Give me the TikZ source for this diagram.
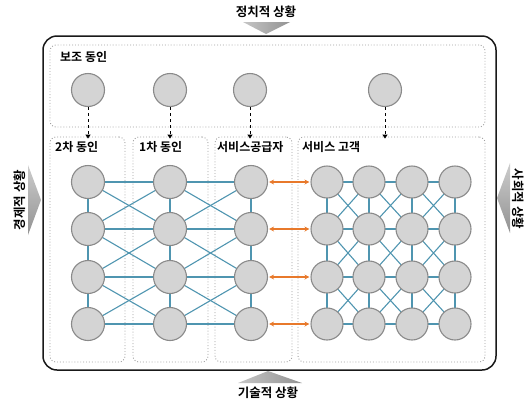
\documentclass[tikz,border=0pt]{standalone}
\usepackage{fontspec}
\setmainfont{Noto Sans CJK KR}[BoldFont={Noto Sans CJK KR Bold}]
\usetikzlibrary{arrows.meta}
\definecolor{teal1}{HTML}{4F95B0}
\definecolor{org}{HTML}{E8792B}
\definecolor{cfill}{HTML}{D4D4D4}
\definecolor{cdraw}{HTML}{8A8A8A}
\begin{document}
\begin{tikzpicture}[x=1pt,y=-1pt,
  circ/.style={circle,fill=cfill,draw=cdraw,line width=1.1pt,minimum size=33pt,inner sep=0pt},
  dbox/.style={draw=gray!75,dotted,line width=0.9pt,rounded corners=6pt,inner sep=0pt},
  lab/.style={font=\bfseries\fontsize{12}{14}\selectfont,anchor=west,inner sep=0pt},
  big/.style={font=\bfseries\fontsize{12.5}{14}\selectfont,inner sep=0pt},
  tl/.style={teal1,line width=1.1pt},
  oa/.style={org,line width=1.3pt,{Stealth[length=5pt,width=5pt]}-{Stealth[length=5pt,width=5pt]}},
  da/.style={black,dashed,line width=1pt,-{Triangle[length=4pt,width=5pt]}}]
\useasboundingbox (0,0) rectangle (530,402);
% outer box
\draw[line width=1.5pt,gray!20!black,rounded corners=14pt] (43,36) rectangle (496,370);
% boxes
\node[dbox,minimum width=435pt,minimum height=82pt] (top) at (267.5,86) {};
\node[dbox,minimum width=75pt,minimum height=225pt] (b1) at (87.5,249.5) {};
\node[dbox,minimum width=75pt,minimum height=225pt] (b2) at (170.5,249.5) {};
\node[dbox,minimum width=77pt,minimum height=225pt] (b3) at (253.5,249.5) {};
\node[dbox,minimum width=187pt,minimum height=225pt] (b4) at (391.5,249.5) {};
% labels
\node[lab] (l0) at (60,57) {보조 동인};
\node[lab] (l1) at (55,147) {2차 동인};
\node[lab] (l2) at (139,147) {1차 동인};
\node[lab] (l3) at (217,147) {서비스공급자};
\node[lab] (l4) at (302,147) {서비스 고객};
% triangles
\shade[left color=gray!45,right color=gray!85] (243,22) -- (290,22) -- (266,34) -- cycle;
\shade[left color=gray!45,right color=gray!85] (238,383) -- (302,383) -- (268,371) -- cycle;
\shade[top color=gray!40,bottom color=gray!85] (28,165) -- (41,200) -- (28,235) -- cycle;
\shade[top color=gray!40,bottom color=gray!85] (510,163) -- (497,198) -- (510,233) -- cycle;
\node[big] (pol) at (266,12) {정치적 상황};
\node[big] (tec) at (268,393) {기술적 상황};
\node[big,rotate=90] (eco) at (20,200) {경제적 상황};
\node[big,rotate=-90] (soc) at (518,199) {사회적 상황};
% top circles
\node[circ] (t1) at (88,90) {};
\node[circ] (t2) at (170,90) {};
\node[circ] (t3) at (250,90) {};
\node[circ] (t4) at (385,90) {};
\foreach \i/\b in {1/b1,2/b2,3/b3,4/b4}
  \draw[da] (t\i.south) -- ([yshift=-2pt]t\i.south |- \b.north);
% grid positions
\foreach \r/\y in {1/182,2/229,3/277,4/324}{
  \foreach \c/\x in {1/88,2/170,3/251}
    \coordinate (L\r\c) at (\x,\y);
  \foreach \c/\x in {1/327,2/369,3/412,4/455}
    \coordinate (R\r\c) at (\x,\y);
}
% edges
\foreach \r in {1,...,4}{
  \draw[tl] (L\r1) -- (L\r2) -- (L\r3);
  \draw[tl] (R\r1) -- (R\r2) -- (R\r3) -- (R\r4);
}
\foreach \c in {1,2,3} \draw[tl] (L1\c) -- (L4\c);
\foreach \c in {1,...,4} \draw[tl] (R1\c) -- (R4\c);
\foreach \r/\s in {1/2,2/3,3/4}{
  \foreach \c/\d in {1/2,2/3}{
    \draw[tl] (L\r\c) -- (L\s\d);
    \draw[tl] (L\s\c) -- (L\r\d);
  }
  \foreach \c/\d in {1/2,2/3,3/4}{
    \draw[tl] (R\r\c) -- (R\s\d);
    \draw[tl] (R\s\c) -- (R\r\d);
  }
}
% circles
\foreach \r in {1,...,4}{
  \foreach \c in {1,2,3} \node[circ] (l\r\c) at (L\r\c) {};
  \foreach \c in {1,...,4} \node[circ,minimum size=32pt] (r\r\c) at (R\r\c) {};
  \draw[oa] ([xshift=1pt]l\r3.east) -- ([xshift=-1pt]r\r1.west);
}
\end{tikzpicture}
\end{document}
